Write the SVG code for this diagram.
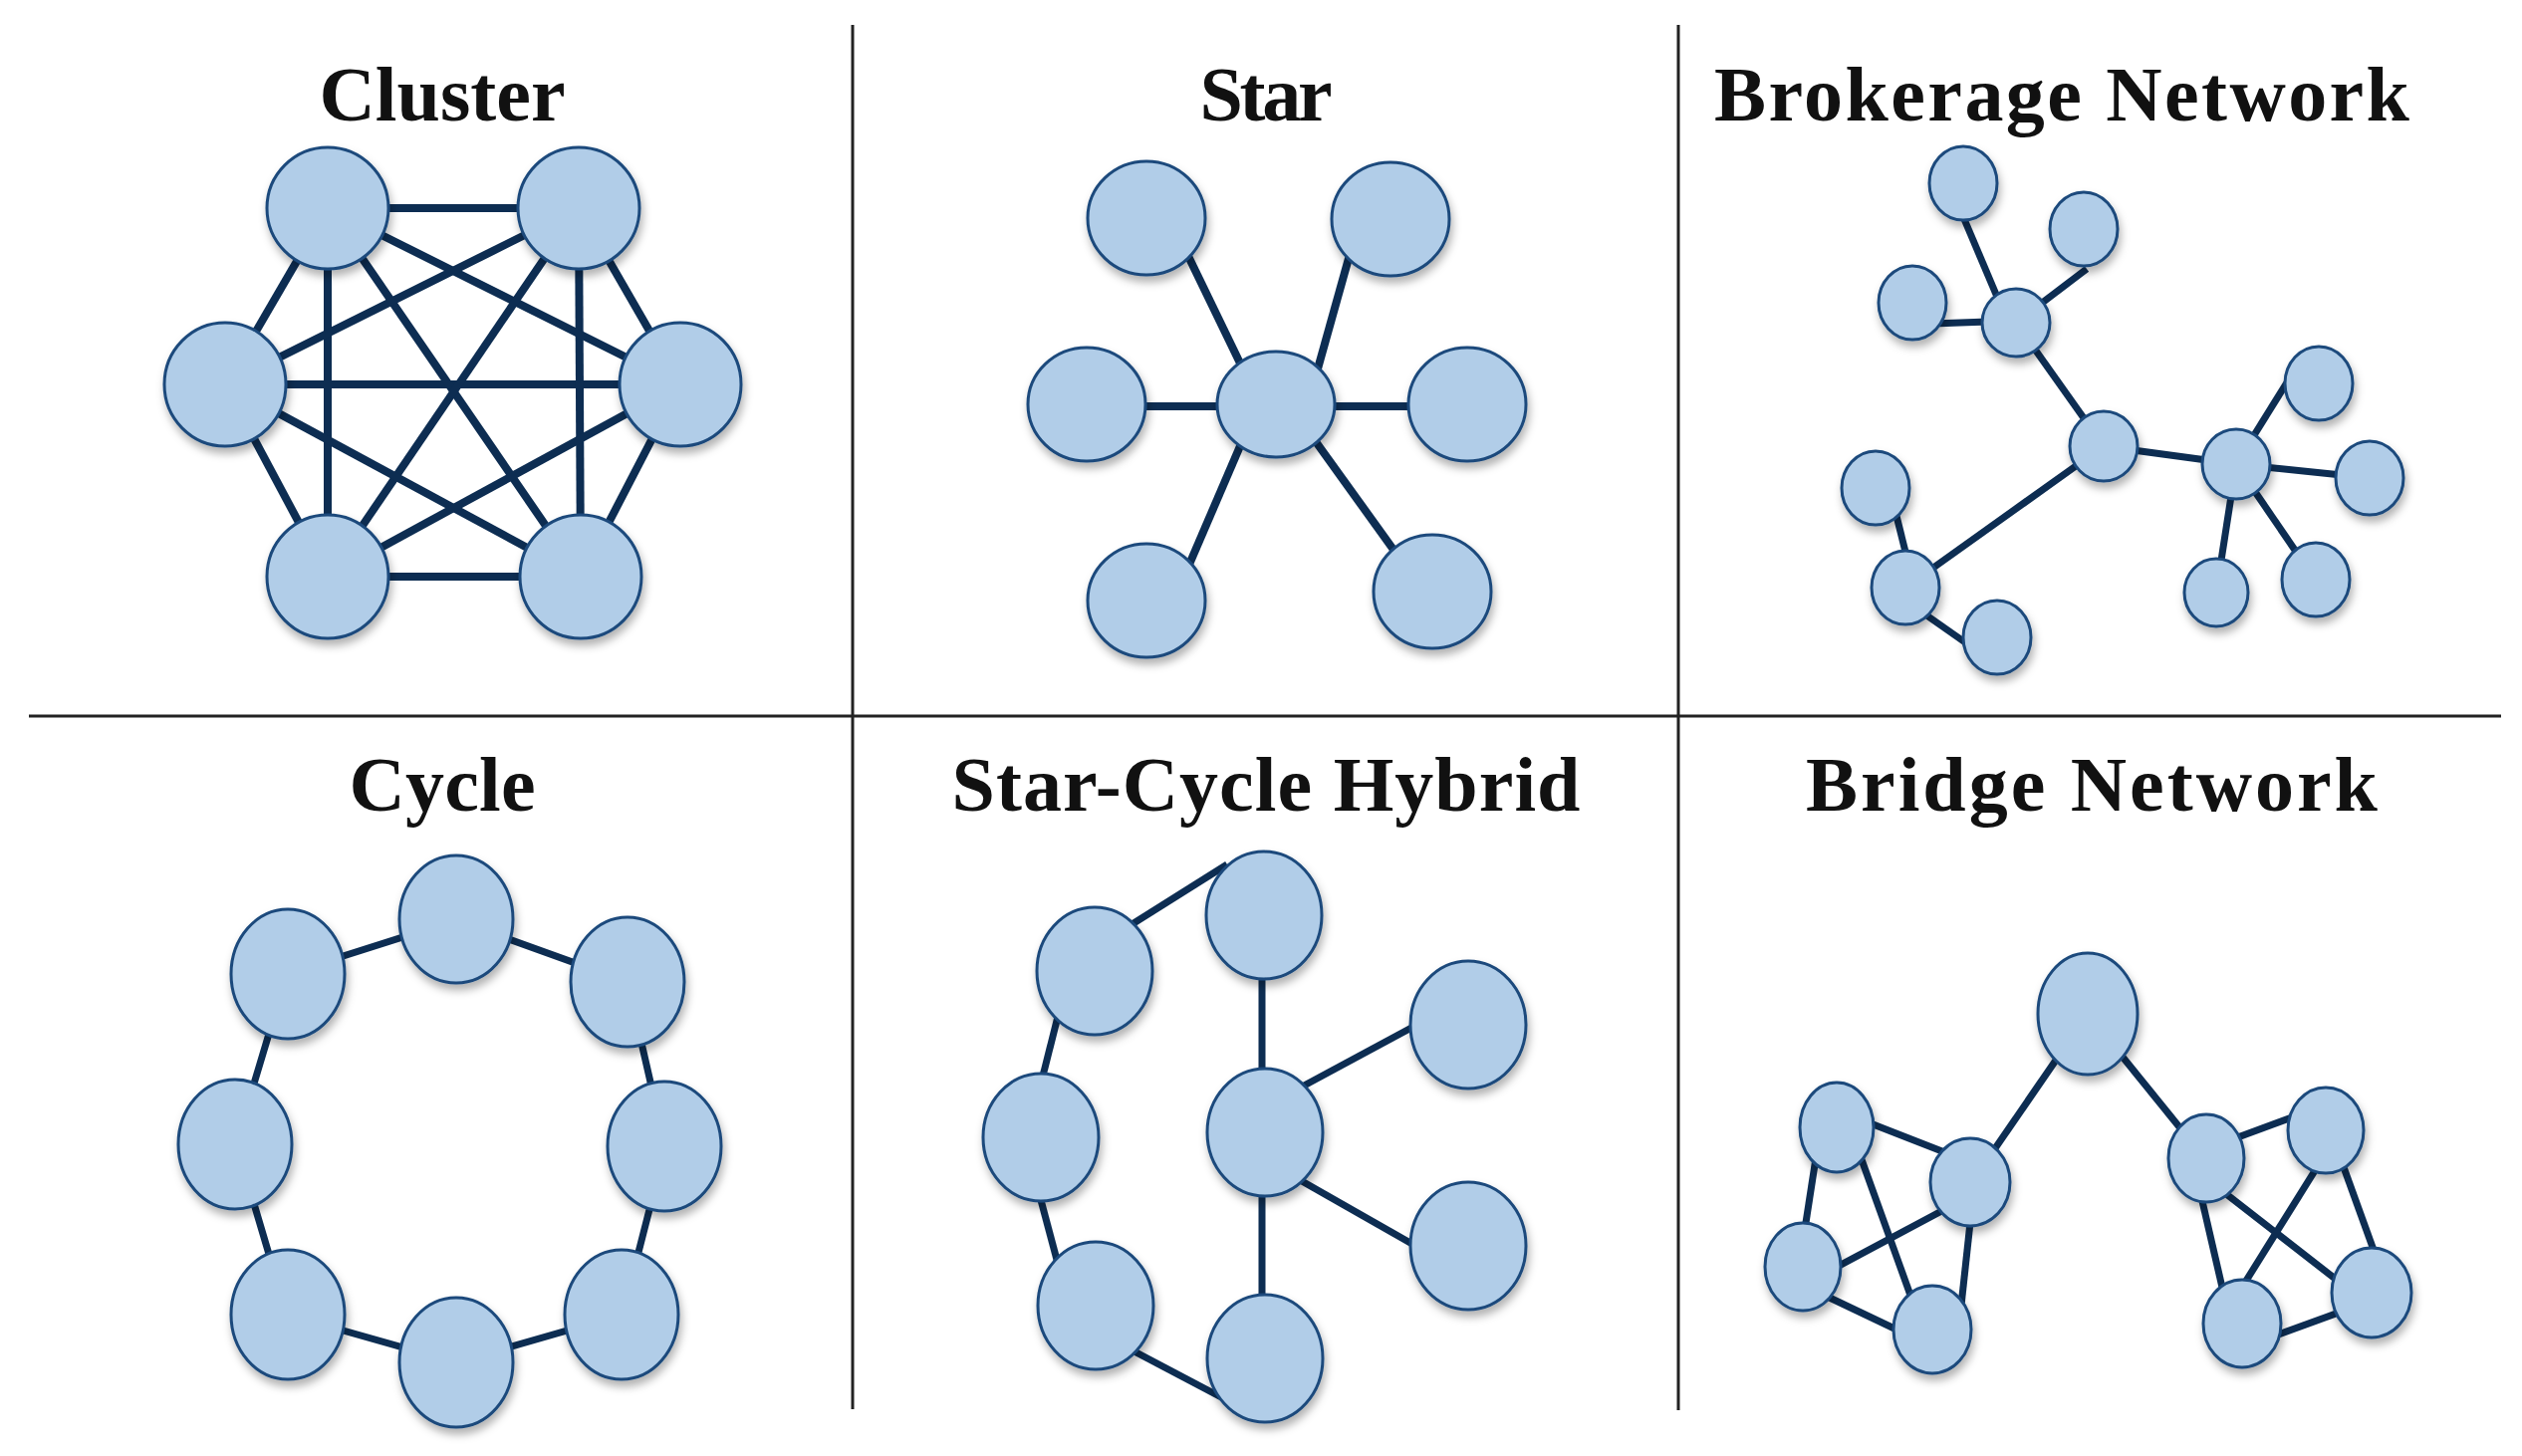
<svg xmlns="http://www.w3.org/2000/svg" width="2532" height="1462" viewBox="0 0 2532 1462">
<defs>
<filter id="sh" x="-30%" y="-30%" width="160%" height="170%">
<feDropShadow dx="2" dy="6" stdDeviation="4" flood-color="#000" flood-opacity="0.3"/>
</filter>
<style>
.t{font-family:"Liberation Serif","Times New Roman",serif;font-weight:700;font-size:78px;fill:#111;text-anchor:middle}
.div{stroke:#222;stroke-width:3;fill:none}
.e{stroke:#0d2d52;stroke-width:8;stroke-linecap:butt;fill:none}
.e6{stroke:#0d2d52;stroke-width:7;fill:none}
.n{fill:#b1cde8;stroke:#1b4a7c;stroke-width:3;filter:url(#sh)}
</style>
</defs>
<rect width="2532" height="1462" fill="#fff"/>
<g id="dividers">
<line class="div" x1="29" y1="719" x2="2511" y2="719"/>
<line class="div" x1="856" y1="25" x2="856" y2="1415"/>
<line class="div" x1="1685" y1="25" x2="1685" y2="1416"/>
</g>
<g id="titles">
<text class="t" x="444" y="121" textLength="247">Cluster</text>
<text class="t" x="1271" y="121" textLength="133">Star</text>
<text class="t" x="2070" y="121" textLength="698">Brokerage Network</text>
<text class="t" x="444" y="814" textLength="187">Cycle</text>
<text class="t" x="1271" y="814" textLength="631">Star-Cycle Hybrid</text>
<text class="t" x="2100" y="814" textLength="574">Bridge Network</text>
</g>
<g id="connectors">
<g id="cluster-edges" class="e">
<line x1="329" y1="209" x2="581" y2="209"/>
<line x1="329" y1="579" x2="583" y2="579"/>
<line x1="226" y1="386" x2="683" y2="386"/>
<line x1="329" y1="209" x2="329" y2="579"/>
<line x1="581" y1="209" x2="583" y2="579"/>
<line x1="329" y1="209" x2="226" y2="386"/>
<line x1="226" y1="386" x2="329" y2="579"/>
<line x1="581" y1="209" x2="683" y2="386"/>
<line x1="683" y1="386" x2="583" y2="579"/>
<line x1="329" y1="209" x2="683" y2="386"/>
<line x1="329" y1="209" x2="583" y2="579"/>
<line x1="581" y1="209" x2="226" y2="386"/>
<line x1="581" y1="209" x2="329" y2="579"/>
<line x1="226" y1="386" x2="583" y2="579"/>
<line x1="683" y1="386" x2="329" y2="579"/>
</g>
<g id="star-edges" class="e">
<line x1="1175" y1="220" x2="1265" y2="406"/>
<line x1="1365" y1="220" x2="1313" y2="406"/>
<line x1="1091" y1="408" x2="1281" y2="408"/>
<line x1="1281" y1="408" x2="1473" y2="408"/>
<line x1="1263" y1="406" x2="1178" y2="604"/>
<line x1="1294" y1="406" x2="1430" y2="595"/>
</g>
<g id="brokerage-edges" class="e6">
<line x1="1972" y1="220" x2="2016" y2="324"/>
<line x1="2024" y1="324" x2="2095" y2="270"/>
<line x1="1940" y1="325" x2="2024" y2="322"/>
<line x1="2024" y1="324" x2="2112" y2="448"/>
<line x1="2112" y1="448" x2="2245" y2="466"/>
<line x1="2245" y1="466" x2="2296" y2="384"/>
<line x1="2245" y1="466" x2="2380" y2="480"/>
<line x1="2245" y1="466" x2="2225" y2="595"/>
<line x1="2245" y1="466" x2="2325" y2="583"/>
<line x1="2112" y1="448" x2="1913" y2="590"/>
<line x1="1897" y1="490" x2="1922" y2="590"/>
<line x1="1913" y1="603" x2="1990" y2="657"/>
</g>
<g id="cycle-edges" class="e6">
<polygon points="458,924 630,986 668,1152 625,1320 458,1368 288,1320 237,1148 288,978"/>
</g>
<g id="hybrid-edges" class="e6">
<line x1="1135" y1="929" x2="1232" y2="868"/>
<line x1="1066" y1="1005" x2="1042" y2="1100"/>
<line x1="1041" y1="1190" x2="1065" y2="1280"/>
<line x1="1135" y1="1355" x2="1228" y2="1404"/>
<line x1="1267" y1="960" x2="1267" y2="1100"/>
<line x1="1267" y1="1170" x2="1267" y2="1320"/>
<line x1="1300" y1="1095" x2="1430" y2="1025"/>
<line x1="1300" y1="1182" x2="1430" y2="1256"/>
</g>
<g id="bridge-edges" class="e6">
<line x1="1979" y1="1188" x2="2096" y2="1018"/>
<line x1="2096" y1="1018" x2="2215" y2="1165"/>
<line x1="1860" y1="1121" x2="1960" y2="1160"/>
<line x1="1825" y1="1150" x2="1808" y2="1260"/>
<line x1="1862" y1="1145" x2="1925" y2="1320"/>
<line x1="1970" y1="1205" x2="1820" y2="1285"/>
<line x1="1981" y1="1200" x2="1968" y2="1320"/>
<line x1="1820" y1="1295" x2="1925" y2="1345"/>
<line x1="2225" y1="1150" x2="2320" y2="1115"/>
<line x1="2205" y1="1180" x2="2235" y2="1310"/>
<line x1="2230" y1="1195" x2="2365" y2="1300"/>
<line x1="2340" y1="1150" x2="2240" y2="1310"/>
<line x1="2345" y1="1150" x2="2392" y2="1280"/>
<line x1="2370" y1="1310" x2="2260" y2="1350"/>
</g>
</g>
<g id="cluster">
<ellipse id="cl1" class="n" cx="329" cy="209" rx="61" ry="61"/>
<ellipse id="cl2" class="n" cx="581" cy="209" rx="61" ry="61"/>
<ellipse id="cl3" class="n" cx="226" cy="386" rx="61" ry="62"/>
<ellipse id="cl4" class="n" cx="683" cy="386" rx="61" ry="62"/>
<ellipse id="cl5" class="n" cx="329" cy="579" rx="61" ry="62"/>
<ellipse id="cl6" class="n" cx="583" cy="579" rx="61" ry="62"/>
</g>
<g id="star">
<ellipse id="st1" class="n" cx="1151" cy="219" rx="59" ry="57"/>
<ellipse id="st2" class="n" cx="1396" cy="220" rx="59" ry="57"/>
<ellipse id="st3" class="n" cx="1091" cy="406" rx="59" ry="57"/>
<ellipse id="st4" class="n" cx="1281" cy="406" rx="59" ry="53"/>
<ellipse id="st5" class="n" cx="1473" cy="406" rx="59" ry="57"/>
<ellipse id="st6" class="n" cx="1151" cy="603" rx="59" ry="57"/>
<ellipse id="st7" class="n" cx="1438" cy="594" rx="59" ry="57"/>
</g>
<g id="brokerage">
<ellipse id="br1" class="n" cx="1971" cy="184" rx="34" ry="37"/>
<ellipse id="br2" class="n" cx="2092" cy="230" rx="34" ry="37"/>
<ellipse id="br3" class="n" cx="1920" cy="304" rx="34" ry="37"/>
<ellipse id="br4" class="n" cx="2024" cy="324" rx="34" ry="34"/>
<ellipse id="br5" class="n" cx="2112" cy="448" rx="34" ry="35"/>
<ellipse id="br6" class="n" cx="2245" cy="466" rx="34" ry="35"/>
<ellipse id="br7" class="n" cx="2328" cy="385" rx="34" ry="37"/>
<ellipse id="br8" class="n" cx="2379" cy="480" rx="34" ry="37"/>
<ellipse id="br9" class="n" cx="2225" cy="595" rx="32" ry="34"/>
<ellipse id="br10" class="n" cx="2325" cy="582" rx="34" ry="37"/>
<ellipse id="br11" class="n" cx="1883" cy="490" rx="34" ry="37"/>
<ellipse id="br12" class="n" cx="1913" cy="590" rx="34" ry="37"/>
<ellipse id="br13" class="n" cx="2005" cy="640" rx="34" ry="37"/>
</g>
<g id="cycle">
<ellipse id="cy1" class="n" cx="458" cy="923" rx="57" ry="64"/>
<ellipse id="cy2" class="n" cx="289" cy="978" rx="57" ry="65"/>
<ellipse id="cy3" class="n" cx="630" cy="986" rx="57" ry="65"/>
<ellipse id="cy4" class="n" cx="236" cy="1149" rx="57" ry="65"/>
<ellipse id="cy5" class="n" cx="667" cy="1151" rx="57" ry="65"/>
<ellipse id="cy6" class="n" cx="289" cy="1320" rx="57" ry="65"/>
<ellipse id="cy7" class="n" cx="624" cy="1320" rx="57" ry="65"/>
<ellipse id="cy8" class="n" cx="458" cy="1368" rx="57" ry="65"/>
</g>
<g id="hybrid">
<ellipse id="hy1" class="n" cx="1269" cy="919" rx="58" ry="64"/>
<ellipse id="hy2" class="n" cx="1099" cy="975" rx="58" ry="64"/>
<ellipse id="hy3" class="n" cx="1045" cy="1142" rx="58" ry="64"/>
<ellipse id="hy4" class="n" cx="1100" cy="1311" rx="58" ry="64"/>
<ellipse id="hy5" class="n" cx="1270" cy="1364" rx="58" ry="64"/>
<ellipse id="hy6" class="n" cx="1270" cy="1137" rx="58" ry="64"/>
<ellipse id="hy7" class="n" cx="1474" cy="1029" rx="58" ry="64"/>
<ellipse id="hy8" class="n" cx="1474" cy="1251" rx="58" ry="64"/>
</g>
<g id="bridge">
<ellipse id="bg0" class="n" cx="2096" cy="1018" rx="50" ry="61"/>
<ellipse id="bg1" class="n" cx="1844" cy="1132" rx="37" ry="45"/>
<ellipse id="bg2" class="n" cx="1978" cy="1187" rx="40" ry="44"/>
<ellipse id="bg3" class="n" cx="1810" cy="1272" rx="38" ry="44"/>
<ellipse id="bg4" class="n" cx="1940" cy="1335" rx="39" ry="44"/>
<ellipse id="bg5" class="n" cx="2215" cy="1163" rx="38" ry="44"/>
<ellipse id="bg6" class="n" cx="2335" cy="1135" rx="38" ry="43"/>
<ellipse id="bg7" class="n" cx="2381" cy="1298" rx="40" ry="45"/>
<ellipse id="bg8" class="n" cx="2251" cy="1329" rx="39" ry="44"/>
</g>
</svg>
